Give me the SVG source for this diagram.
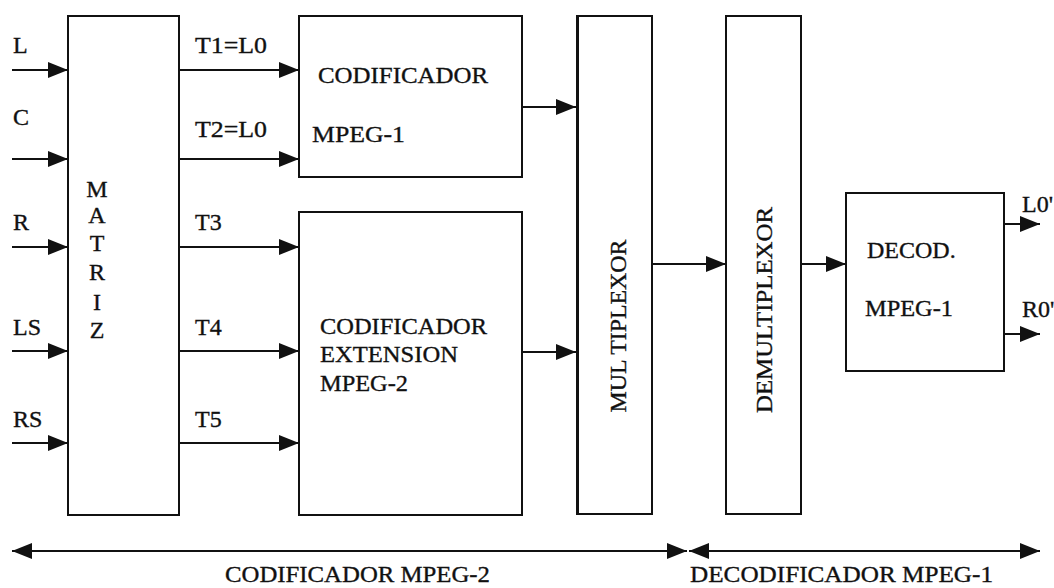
<svg xmlns="http://www.w3.org/2000/svg" width="1054" height="588" viewBox="0 0 1054 588">
<defs>
<style>
.box{fill:#fff;stroke:#111;stroke-width:2}
.ln{stroke:#111;stroke-width:2;fill:none}
.t{font-family:"Liberation Serif","Times New Roman",serif;font-size:24px;fill:#111;stroke:#111;stroke-width:0.35}
.m{text-anchor:middle}
</style>
<marker id="ah" markerUnits="userSpaceOnUse" markerWidth="20" markerHeight="16" refX="20" refY="8" orient="auto">
<path d="M0,0 L20,8 L0,16 z" fill="#111"/>
</marker>
<marker id="ahs" markerUnits="userSpaceOnUse" markerWidth="20" markerHeight="16" refX="0" refY="8" orient="auto">
<path d="M20,0 L0,8 L20,16 z" fill="#111"/>
</marker>
</defs>
<rect width="1054" height="588" fill="#fff"/>

<g id="matriz">
<rect class="box" x="68" y="16" width="111" height="499"/>
<text class="t m" x="97" y="197">M</text>
<text class="t m" x="97" y="223">A</text>
<text class="t m" x="97" y="251">T</text>
<text class="t m" x="97" y="280">R</text>
<text class="t m" x="97" y="310">I</text>
<text class="t m" x="97" y="338">Z</text>
</g>

<g id="cod-mpeg1">
<rect class="box" x="299" y="16" width="223" height="161"/>
<text class="t" x="318" y="83" textLength="170" lengthAdjust="spacingAndGlyphs">CODIFICADOR</text>
<text class="t" x="312" y="142" textLength="93" lengthAdjust="spacingAndGlyphs">MPEG-1</text>
</g>

<g id="cod-ext">
<rect class="box" x="299" y="212" width="223" height="303"/>
<text class="t" x="320" y="334" textLength="167" lengthAdjust="spacingAndGlyphs">CODIFICADOR</text>
<text class="t" x="320" y="362" textLength="138" lengthAdjust="spacingAndGlyphs">EXTENSION</text>
<text class="t" x="320" y="391" textLength="88" lengthAdjust="spacingAndGlyphs">MPEG-2</text>
</g>

<g id="multiplexor">
<rect class="box" x="577" y="16" width="75" height="498"/>
<rect x="576" y="16" width="3" height="498" fill="#111"/>
<text class="t m" transform="translate(626,326) rotate(-90)" textLength="173" lengthAdjust="spacingAndGlyphs">MUL TIPLEXOR</text>
</g>

<g id="demultiplexor">
<rect class="box" x="726" y="16" width="75" height="498"/>
<text class="t m" transform="translate(772,310) rotate(-90)" textLength="206" lengthAdjust="spacingAndGlyphs">DEMULTIPLEXOR</text>
</g>

<g id="decod">
<rect class="box" x="846" y="193" width="158" height="178"/>
<text class="t" x="867" y="258">DECOD.</text>
<text class="t" x="865" y="316" textLength="88" lengthAdjust="spacingAndGlyphs">MPEG-1</text>
</g>

<g id="connectors">
<line class="ln" x1="12" y1="70" x2="68" y2="70" marker-end="url(#ah)"/>
<line class="ln" x1="12" y1="159" x2="68" y2="159" marker-end="url(#ah)"/>
<line class="ln" x1="12" y1="247" x2="68" y2="247" marker-end="url(#ah)"/>
<line class="ln" x1="12" y1="351" x2="68" y2="351" marker-end="url(#ah)"/>
<line class="ln" x1="12" y1="443" x2="68" y2="443" marker-end="url(#ah)"/>
<line class="ln" x1="179" y1="70" x2="299" y2="70" marker-end="url(#ah)"/>
<line class="ln" x1="179" y1="159" x2="299" y2="159" marker-end="url(#ah)"/>
<line class="ln" x1="179" y1="247" x2="299" y2="247" marker-end="url(#ah)"/>
<line class="ln" x1="179" y1="351" x2="299" y2="351" marker-end="url(#ah)"/>
<line class="ln" x1="179" y1="443" x2="299" y2="443" marker-end="url(#ah)"/>
<line class="ln" x1="522" y1="107" x2="576" y2="107" marker-end="url(#ah)"/>
<line class="ln" x1="522" y1="352" x2="576" y2="352" marker-end="url(#ah)"/>
<line class="ln" x1="652" y1="264" x2="726" y2="264" marker-end="url(#ah)"/>
<line class="ln" x1="801" y1="264" x2="846" y2="264" marker-end="url(#ah)"/>
<line class="ln" x1="1004" y1="224" x2="1040" y2="224" marker-end="url(#ah)"/>
<line class="ln" x1="1004" y1="334" x2="1040" y2="334" marker-end="url(#ah)"/>
<line class="ln" x1="12" y1="551" x2="687" y2="551" marker-start="url(#ahs)" marker-end="url(#ah)"/>
<line class="ln" x1="689" y1="551" x2="1040" y2="551" marker-start="url(#ahs)" marker-end="url(#ah)"/>
</g>

<g id="labels">
<text class="t" x="13" y="53">L</text>
<text class="t" x="13" y="125">C</text>
<text class="t" x="13" y="230">R</text>
<text class="t" x="13" y="335">LS</text>
<text class="t" x="13" y="427">RS</text>
<text class="t" x="195" y="53" textLength="72" lengthAdjust="spacingAndGlyphs">T1=L0</text>
<text class="t" x="195" y="137" textLength="72" lengthAdjust="spacingAndGlyphs">T2=L0</text>
<text class="t" x="195" y="230">T3</text>
<text class="t" x="195" y="335">T4</text>
<text class="t" x="195" y="427">T5</text>
<text class="t" x="1022" y="212">L0'</text>
<text class="t" x="1022" y="317">R0'</text>
<text class="t" x="225" y="582" textLength="265" lengthAdjust="spacingAndGlyphs">CODIFICADOR MPEG-2</text>
<text class="t" x="690" y="582" textLength="303" lengthAdjust="spacingAndGlyphs">DECODIFICADOR MPEG-1</text>
</g>
</svg>
